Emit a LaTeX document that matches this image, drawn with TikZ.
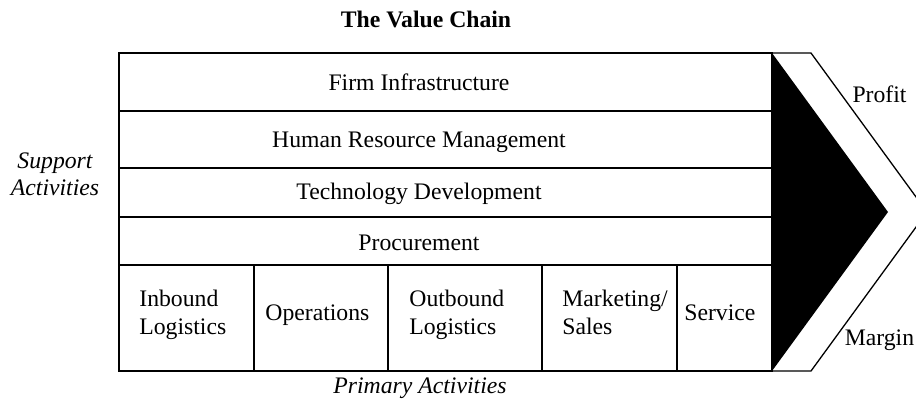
\documentclass[tikz,border=0pt]{standalone}
\usepackage{fontspec}
\setmainfont{Liberation Serif}
\usetikzlibrary{positioning}

\begin{document}
\begin{tikzpicture}[x=0.5pt,y=-0.5pt,
	txt/.style={font=\fontsize{11.85}{13.7}\selectfont,inner sep=0pt},
	itxt/.style={txt,font=\fontsize{11.85}{13.7}\selectfont\itshape},
	frame/.style={line width=1pt},
	marginline/.style={line width=0.65pt,line join=miter}]
	\clip (0,0) rectangle (916,403);
	% margin arrow
	\fill (772,53)--(888,212)--(772,371)--cycle;
	\draw[marginline] (772,53)--(811,53)--(927,212)--(811,371)--(772,371);
	% activity grid
	\draw[frame] (119,53) rectangle (772,371);
	\foreach \y in {111,168,217,265}
		\draw[frame] (119,\y)--(772,\y);
	\foreach \x in {254,388,542,677}
		\draw[frame] (\x,265)--(\x,371);
	% texts
	\node (title) at (426,27)[txt,anchor=base] {\bfseries The Value Chain};
	\node (firm) at (419,90)[txt,anchor=base] {Firm Infrastructure};
	\node (hrm) at (419,147)[txt,anchor=base] {Human Resource Management};
	\node (tech) at (419,199)[txt,anchor=base] {Technology Development};
	\node (proc) at (419,250)[txt,anchor=base] {Procurement};
	\node (inbound) at (139,290)[txt,anchor=north west,align=left] {Inbound\\Logistics};
	\node (ops) at (265,320)[txt,anchor=base west] {Operations};
	\node (outbound) at (409,290)[txt,anchor=north west,align=left] {Outbound\\Logistics};
	\node (sales) at (562,290)[txt,anchor=north west,align=left] {Marketing/\\Sales};
	\node (service) at (684,320)[txt,anchor=base west] {Service};
	\node (support) at (55,152)[itxt,anchor=north,align=center] {Support\\Activities};
	\node (primary) at (420,393)[itxt,anchor=base] {Primary Activities};
	\node (profit) at (879.5,102)[txt,anchor=base] {Profit};
	\node (margin) at (879.5,345)[txt,anchor=base] {Margin};
\end{tikzpicture}
\end{document}
